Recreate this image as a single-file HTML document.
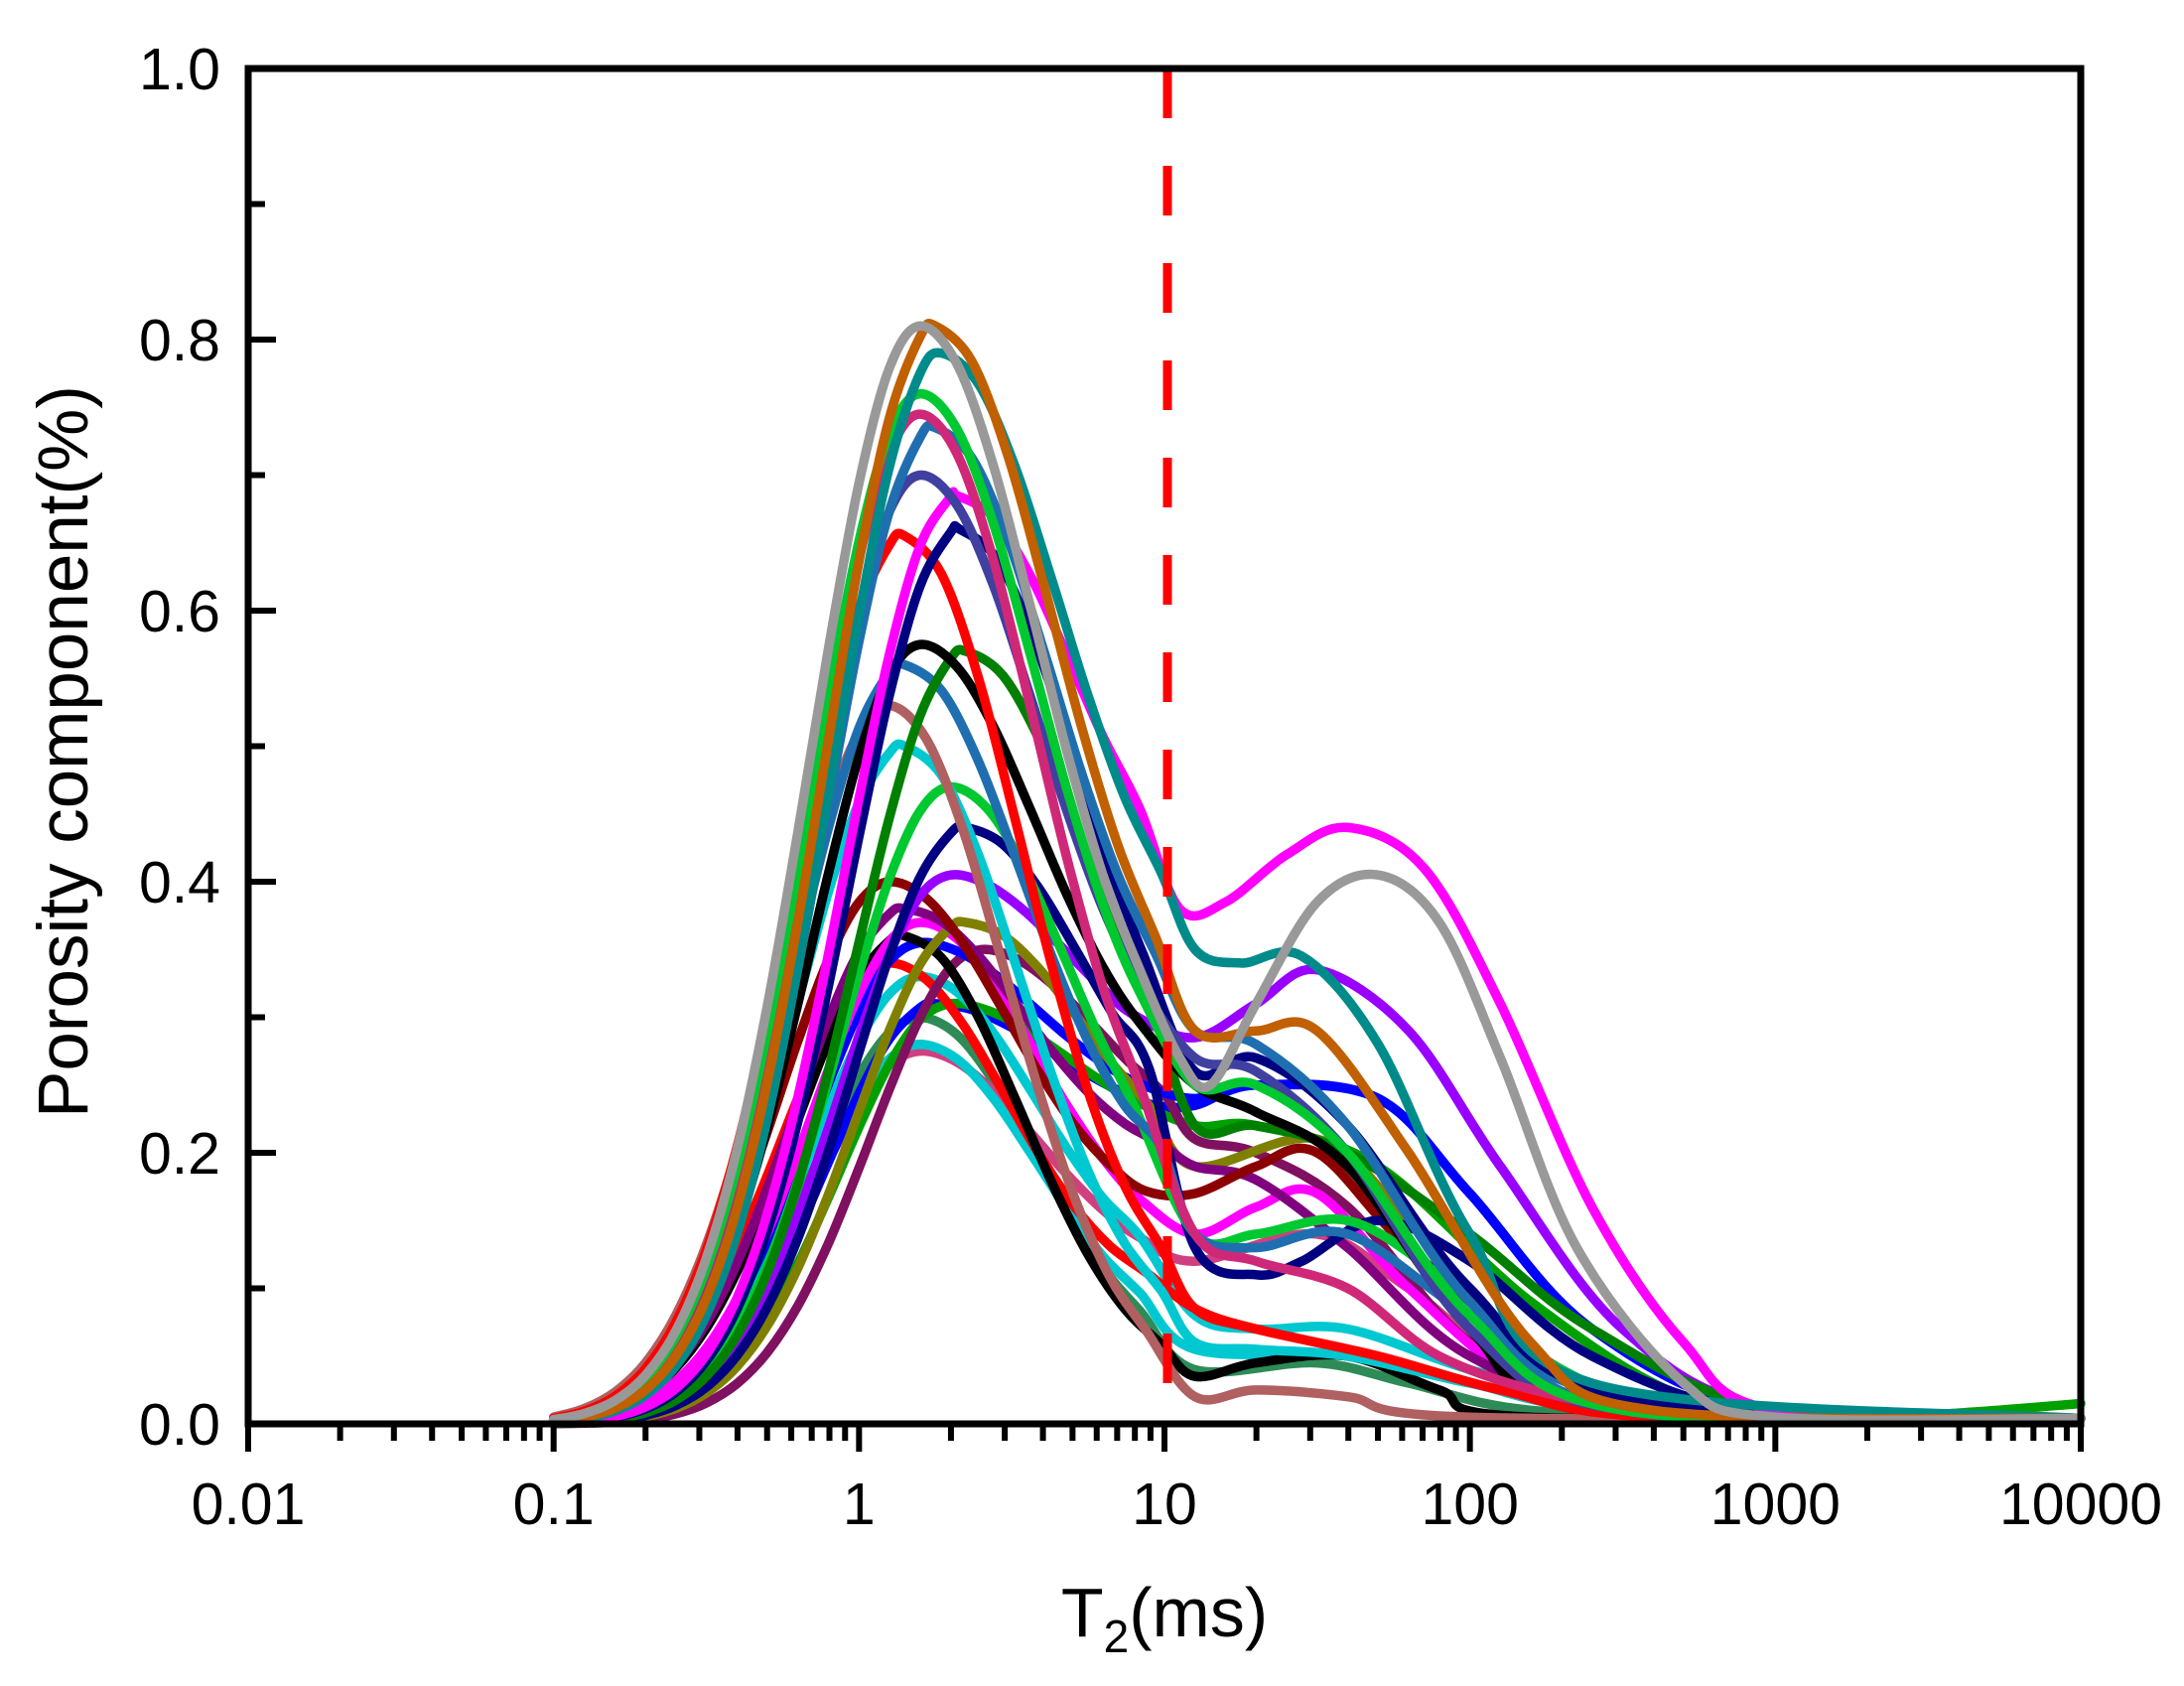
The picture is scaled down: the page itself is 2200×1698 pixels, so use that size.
<!DOCTYPE html>
<html><head><meta charset="utf-8"><style>
html,body{margin:0;padding:0;background:#fff;}
svg{display:block;}
text{font-family:"Liberation Sans",Arial,sans-serif;fill:#000;}
</style></head><body>
<svg id="s" width="2200" height="1698" viewBox="0 0 2200 1698" xmlns="http://www.w3.org/2000/svg">
<g id="curves" fill="none" stroke-width="9.5" stroke-linejoin="round" stroke-linecap="round"></g>
<line x1="1176" y1="69" x2="1176" y2="1434" stroke="#ff0000" stroke-width="9" stroke-dasharray="50 48" stroke-dashoffset="0"/>
<rect x="250" y="69" width="1846" height="1365" fill="none" stroke="#000" stroke-width="7"/>
<g id="ticks" stroke="#000" stroke-width="6"></g>
<g id="labels" font-size="59"></g>
<text x="1173" y="1648" font-size="70" text-anchor="middle">T<tspan font-size="46" dy="16">2</tspan><tspan dy="-16">(ms)</tspan></text>
<text transform="translate(88,757) rotate(-90)" font-size="71" text-anchor="middle">Porosity component(%)</text>
</svg>
<script>
var L=250,R=2096,T=69,B=1434,dec=(R-L)/6;
function X(l){return L+(l+2)*dec;}
function Y(v){return B-v*(B-T);}
var NS="http://www.w3.org/2000/svg";
var tk=document.getElementById('ticks'),lb=document.getElementById('labels');
function line(x1,y1,x2,y2){var e=document.createElementNS(NS,'line');e.setAttribute('x1',x1);e.setAttribute('y1',y1);e.setAttribute('x2',x2);e.setAttribute('y2',y2);tk.appendChild(e);}
function txt(x,y,s,a){var e=document.createElementNS(NS,'text');e.setAttribute('x',x);e.setAttribute('y',y);e.setAttribute('text-anchor',a);e.textContent=s;lb.appendChild(e);}
var xl=['0.01','0.1','1','10','100','1000','10000'];
for(var d=0;d<=6;d++){var x=L+d*dec;line(x,B,x,B+28);txt(x,1535,xl[d],'middle');
 if(d<6)for(var k=2;k<10;k++){var xx=L+(d+Math.log10(k))*dec;line(xx,B,xx,B+17);}}
for(var i=0;i<=10;i++){var y=Y(i/10);line(L,y,L+(i%2==0?28:17),y);if(i%2==0)txt(222,y+21,(i/10).toFixed(1),'end');}
function crv(A,m,v1,tail){
 var p=[],s=0.36;
 for(var x=-1;x<m-0.001;x+=0.1){p.push([x,A*Math.exp(-Math.pow((x-m)/s,2)/2)]);}
 p.push([m,A]);
 var sr=0.38;
 var lim=tail[0][0]-0.08;
 for(var x=m+0.12;x<lim;x+=0.12){p.push([x,v1+(A-v1)*Math.exp(-Math.pow((x-m)/sr,2)/2)]);}
 return p.concat(tail);}
function path(p){var q=p.map(function(a){return [X(a[0]),Y(a[1])];});
 var d='M'+q[0][0].toFixed(1)+' '+q[0][1].toFixed(1);
 for(var i=0;i<q.length-1;i++){var p0=q[i>0?i-1:i],p1=q[i],p2=q[i+1],p3=q[i+2<q.length?i+2:i+1];
  var c1x=p1[0]+(p2[0]-p0[0])/6,c1y=p1[1]+(p2[1]-p0[1])/6,c2x=p2[0]-(p3[0]-p1[0])/6,c2y=p2[1]-(p3[1]-p1[1])/6;
  d+='C'+c1x.toFixed(1)+' '+c1y.toFixed(1)+' '+c2x.toFixed(1)+' '+c2y.toFixed(1)+' '+p2[0].toFixed(1)+' '+p2[1].toFixed(1);}
 return d;}
var E=[[4,0.004]];
var C=[
['#2e8b57',0.30,0.2,0.04,[[1.1,0.04],[1.5,0.045],[1.8,0.03],[2.2,0.01],[3,0.004]].concat(E)],
['#d04080',0.275,0.2,0.11,[[1.1,0.12],[1.5,0.14],[1.8,0.1],[2.2,0.04],[3,0.008]].concat(E)],
['#00c8d0',0.28,0.2,0.06,[[1.1,0.055],[1.6,0.05],[2,0.03],[2.5,0.01],[3,0.004]].concat(E)],
['#0000ff',0.31,0.25,0.22,[[1.1,0.235],[1.3,0.25],[1.7,0.24],[2.0,0.17],[2.4,0.07],[3,0.008]].concat(E)],
['#00a000',0.31,0.3,0.21,[[1.1,0.22],[1.3,0.22],[1.7,0.19],[2.2,0.09],[2.7,0.02],[3.2,0.004],[3.6,0.008],[4,0.015]]],
['#00c8d0',0.33,0.2,0.1,[[1.1,0.08],[1.3,0.07],[1.6,0.07],[2,0.04],[2.5,0.012],[3,0.004]].concat(E)],
['#ff0000',0.34,0.1,0.09,[[1.1,0.085],[1.3,0.07],[1.7,0.05],[2.1,0.025],[2.6,0.005]].concat(E)],
['#801060',0.35,0.4,0.2,[[1.1,0.21],[1.3,0.2],[1.6,0.16],[2,0.06],[2.5,0.01]].concat(E)],
['#0000ff',0.355,0.2,0.23,[[1.1,0.24],[1.3,0.25],[1.7,0.24],[2.0,0.17],[2.4,0.07],[3,0.008]].concat(E)],
['#000000',0.36,0.15,0.03,[[1.1,0.035],[1.3,0.045],[1.6,0.05],[1.9,0.025],[2.2,0.005]].concat(E)],
['#ff00ff',0.37,0.2,0.125,[[1.1,0.14],[1.3,0.16],[1.5,0.17],[1.8,0.1],[2.2,0.03],[2.8,0.005]].concat(E)],
['#808000',0.37,0.35,0.18,[[1.1,0.19],[1.5,0.21],[1.8,0.15],[2.2,0.05],[2.8,0.006]].concat(E)],
['#800080',0.38,0.15,0.19,[[1.1,0.19],[1.3,0.18],[1.6,0.13],[2,0.05],[2.6,0.008]].concat(E)],
['#8b0000',0.40,0.1,0.15,[[1.1,0.17],[1.3,0.19],[1.5,0.2],[1.8,0.13],[2.3,0.04],[2.8,0.005]].concat(E)],
['#9900ff',0.405,0.3,0.26,[[1.1,0.285],[1.3,0.31],[1.5,0.335],[1.8,0.29],[2.1,0.19],[2.5,0.07],[3,0.01]].concat(E)],
['#000080',0.44,0.35,0.19,[[1.1,0.13],[1.3,0.11],[1.45,0.12],[1.7,0.15],[2.0,0.12],[2.4,0.05],[3,0.006]].concat(E)],
['#00c830',0.47,0.3,0.14,[[1.1,0.14],[1.3,0.14],[1.6,0.15],[1.9,0.11],[2.3,0.04],[2.8,0.006]].concat(E)],
['#00c8d0',0.50,0.15,0.06,[[1.1,0.06],[1.3,0.055],[1.6,0.05],[2,0.03],[2.5,0.01]].concat(E)],
['#b06060',0.53,0.1,0.025,[[1.1,0.02],[1.3,0.025],[1.6,0.02],[2,0.005]].concat(E)],
['#1f6fb0',0.56,0.15,0.17,[[1.1,0.14],[1.3,0.13],[1.6,0.14],[2,0.08],[2.5,0.02]].concat(E)],
['#008000',0.57,0.35,0.21,[[1.1,0.22],[1.3,0.22],[1.6,0.2],[2.0,0.14],[2.4,0.07],[3,0.01]].concat(E)],
['#000000',0.575,0.2,0.24,[[1.1,0.25],[1.3,0.23],[1.6,0.19],[2,0.07],[2.4,0.01]].concat(E)],
['#ff0000',0.655,0.15,0.08,[[1.1,0.085],[1.3,0.07],[1.7,0.05],[2.1,0.025],[2.6,0.005]].concat(E)],
['#000080',0.66,0.33,0.22,[[1.1,0.26],[1.3,0.27],[1.6,0.22],[2,0.1],[2.5,0.02]].concat(E)],
['#ff00ff',0.685,0.32,0.36,[[1.05,0.38],[1.2,0.385],[1.4,0.42],[1.6,0.44],[1.85,0.41],[2.1,0.31],[2.4,0.16],[2.7,0.06],[3,0.01]].concat(E)],
['#4040a0',0.70,0.2,0.25,[[1.1,0.27],[1.3,0.26],[1.6,0.2],[2,0.07],[2.5,0.01]].concat(E)],
['#1f6fb0',0.735,0.25,0.27,[[1.1,0.29],[1.3,0.28],[1.6,0.22],[2,0.09],[2.5,0.01]].concat(E)],
['#d02878',0.745,0.2,0.15,[[1.1,0.14],[1.3,0.12],[1.6,0.1],[1.9,0.05],[2.3,0.02],[2.8,0.005]].concat(E)],
['#00c830',0.76,0.2,0.23,[[1.1,0.25],[1.3,0.25],[1.6,0.2],[2,0.08],[2.5,0.01]].concat(E)],
['#008b8b',0.79,0.27,0.33,[[1.1,0.35],[1.25,0.34],[1.45,0.345],[1.7,0.28],[2.0,0.14],[2.4,0.03]].concat(E)],
['#c06000',0.81,0.25,0.27,[[1.1,0.29],[1.3,0.29],[1.5,0.29],[1.8,0.2],[2.2,0.06],[2.6,0.01]].concat(E)],
['#999999',0.81,0.2,0.24,[[1.05,0.27],[1.15,0.25],[1.3,0.31],[1.5,0.385],[1.7,0.405],[1.9,0.37],[2.1,0.27],[2.35,0.13],[2.7,0.03],[3,0.005]].concat(E)]
];
var g=document.getElementById('curves');
C.forEach(function(c){var e=document.createElementNS(NS,'path');e.setAttribute('stroke',c[0]);e.setAttribute('d',path(crv(c[1],c[2],c[3],c[4])));g.appendChild(e);});
</script>
</body></html>
